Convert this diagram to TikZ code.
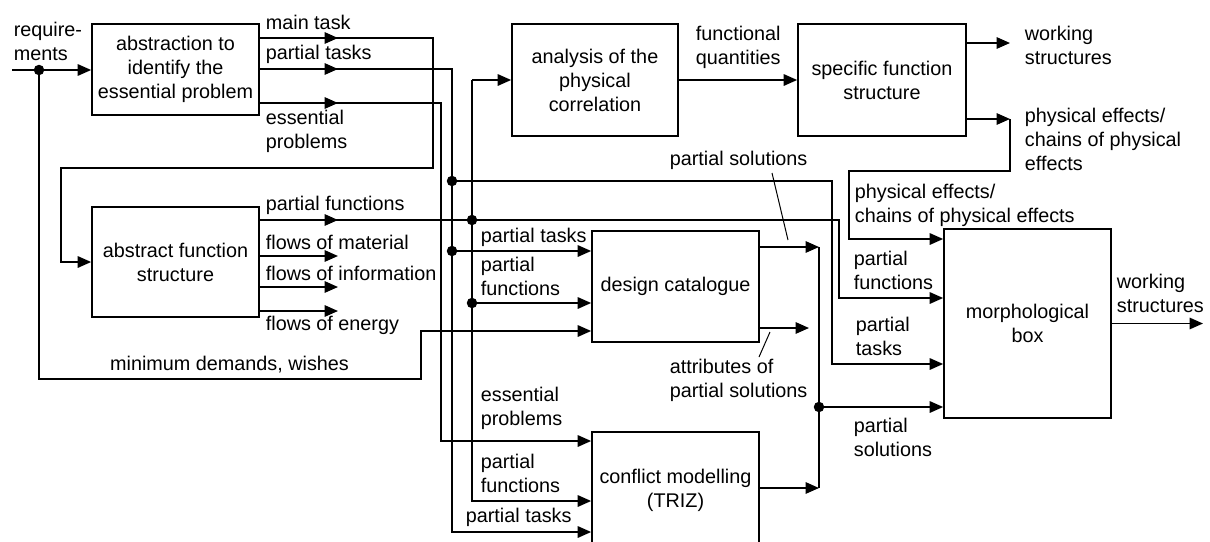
\documentclass[tikz,border=0pt]{standalone}
\usepackage{fontspec}
\setmainfont{Liberation Sans}
\usetikzlibrary{arrows.meta}
\newcommand{\diagfont}{\fontsize{19.8pt}{24pt}\selectfont}

\begin{document}
\begin{tikzpicture}[x=1pt,y=-1pt,
  line width=1.7pt,
  box/.style={draw, align=center, inner sep=0pt, font=\diagfont},
  lbl/.style={anchor=west, align=left, inner sep=0pt, font=\diagfont},
  arr/.style={-{Triangle[length=13.5pt,width=11.5pt]}},
  jn/.style={circle, fill, inner sep=0pt, minimum size=10.5pt},
  leader/.style={line width=1pt}
]
\useasboundingbox (0,0) rectangle (1210,541);

% ---------- blocks ----------
\node[box, minimum width=167pt, minimum height=91pt]  (abs) at (175.5,69.5) {abstraction to\\identify the\\essential problem};
\node[box, minimum width=167pt, minimum height=110pt] (afs) at (175.5,262)  {abstract function\\structure};
\node[box, minimum width=166pt, minimum height=112pt] (ana) at (595,80)     {analysis of the\\physical\\correlation};
\node[box, minimum width=168pt, minimum height=112pt] (sfs) at (882,80)     {specific function\\structure};
\node[box, minimum width=167pt, minimum height=111pt] (dc)  at (675.5,286.5) {design catalogue};
\node[box, minimum width=167pt, minimum height=116pt] (cm)  at (675.5,490)  {conflict modelling\\(TRIZ)};
\node[box, minimum width=167pt, minimum height=189pt] (mb)  at (1027.5,323.5) {morphological\\box};

% x position of the arrow heads placed along the output lines
\coordinate (midx) at (338,0);

% ---------- requirements ----------
\coordinate (reqin) at (12,70);
\draw[arr] (reqin) -- (reqin -| abs.west);
\node[jn] (jreq) at (39,70) {};
\coordinate (mdA) at (421,379);
\coordinate (mdB) at (421,331);
\draw[arr] (jreq.center) |- (mdA) -- (mdB) -- (mdB -| dc.west);

% ---------- main task ----------
\coordinate (mt1) at (433,38);
\coordinate (mt2) at (61,168);
\draw[arr] (abs.east |- mt1) -- (mt1) |- (mt2) |- (afs.west);
\draw[arr] (abs.east |- mt1) -- (midx |- mt1);

% ---------- partial tasks ----------
\coordinate (pt1) at (452,69);
\coordinate (pt2) at (452,532);
\draw[arr] (abs.east |- pt1) -- (pt1) -- (pt2) -- (pt2 -| cm.west);
\draw[arr] (abs.east |- pt1) -- (midx |- pt1);
\node[jn] (jpt1) at (452,181) {};
\node[jn] (jpt2) at (452,251) {};
\coordinate (ptm) at (832,364);
\draw[arr] (jpt1.center) -| (ptm) -- (ptm -| mb.west);
\draw[arr] (jpt2.center) -- (jpt2.center -| dc.west);

% ---------- essential problems ----------
\coordinate (ep1) at (441,103);
\coordinate (ep2) at (441,441);
\draw[arr] (abs.east |- ep1) -- (ep1) -- (ep2) -- (ep2 -| cm.west);
\draw[arr] (abs.east |- ep1) -- (midx |- ep1);

% ---------- partial functions ----------
\coordinate (pf1) at (839,220);
\coordinate (pf2) at (839,298);
\draw[arr] (afs.east |- pf1) -- (pf1) -- (pf2) -- (pf2 -| mb.west);
\draw[arr] (afs.east |- pf1) -- (midx |- pf1);
\coordinate (pfTop) at (472,80);
\coordinate (pfBot) at (472,501);
\draw[arr] (pfTop) -- (ana.west);
\draw[arr] (pfTop) -- (pfBot) -- (pfBot -| cm.west);
\node[jn] (jpf1) at (472,220) {};
\node[jn] (jpf2) at (472,303) {};
\draw[arr] (jpf2.center) -- (jpf2.center -| dc.west);

% ---------- flows ----------
\foreach \yy in {256,287,311} \draw[arr] (afs.east |- 0,\yy) -- (midx |- 0,\yy);

% ---------- analysis -> specific function structure ----------
\draw[arr] (ana.east) -- (sfs.west);

\coordinate (ws) at (1010,43);
\draw[arr] (sfs.east |- ws) -- (ws);
\coordinate (pe1) at (1010,119);
\coordinate (pe2) at (849,171);
\coordinate (pe3) at (849,239);
\draw[arr] (sfs.east |- pe1) -- (pe1);
\draw[arr] (pe1) |- (pe2) -- (pe3) -- (pe3 -| mb.west);

% ---------- solutions ----------
\coordinate (ps1) at (819,247);
\coordinate (ps2) at (819,488);
\draw[arr] (dc.east |- ps1) -- (ps1);
\draw (ps1) -- (ps2);
\draw[arr] (cm.east |- ps2) -- (ps2);
\node[jn] (jps) at (819,407) {};
\draw[arr] (jps.center) -- (jps.center -| mb.west);
\coordinate (att) at (809,328);
\draw[arr] (dc.east |- att) -- (att);

\coordinate (wsout) at (1203,323.5);
\draw[arr] (mb.east) -- (wsout);

% leader lines
\draw[leader] (772,173) -- (788,240);
\draw[leader] (770,332) -- (759,357);

% ---------- labels ----------
\node[lbl] at (13,41) {require-\\ments};
\node[lbl] at (265,22) {main task};
\node[lbl] at (265,54) {partial tasks};
\node[lbl] at (265,131.5) {essential\\problems};
\node[lbl] at (265,205) {partial functions};
\node[lbl] at (265,242) {flows of material};
\node[lbl] at (265,273) {flows of information};
\node[lbl] at (265,325) {flows of energy};
\node[lbl, anchor=center] at (229.5,365) {minimum demands, wishes};
\node[lbl] at (695,47.5) {functional\\quantities};
\node[lbl] at (1024,45) {working\\structures};
\node[lbl] at (1024,139) {physical effects/\\chains of physical\\effects};
\node[lbl] at (854,205) {physical effects/\\chains of physical effects};
\node[lbl] at (669,160) {partial solutions};
\node[lbl] at (853,270) {partial\\functions};
\node[lbl] at (855,336) {partial\\tasks};
\node[lbl] at (853,437.5) {partial\\solutions};
\node[lbl] at (1116,293.5) {working\\structures};
\node[lbl] at (480,237) {partial tasks};
\node[lbl] at (480,276.5) {partial\\functions};
\node[lbl] at (669,380) {attributes of\\partial solutions};
\node[lbl] at (480,408.5) {essential\\problems};
\node[lbl] at (480,473.5) {partial\\functions};
\node[lbl] at (465,517) {partial tasks};
\end{tikzpicture}
\end{document}
